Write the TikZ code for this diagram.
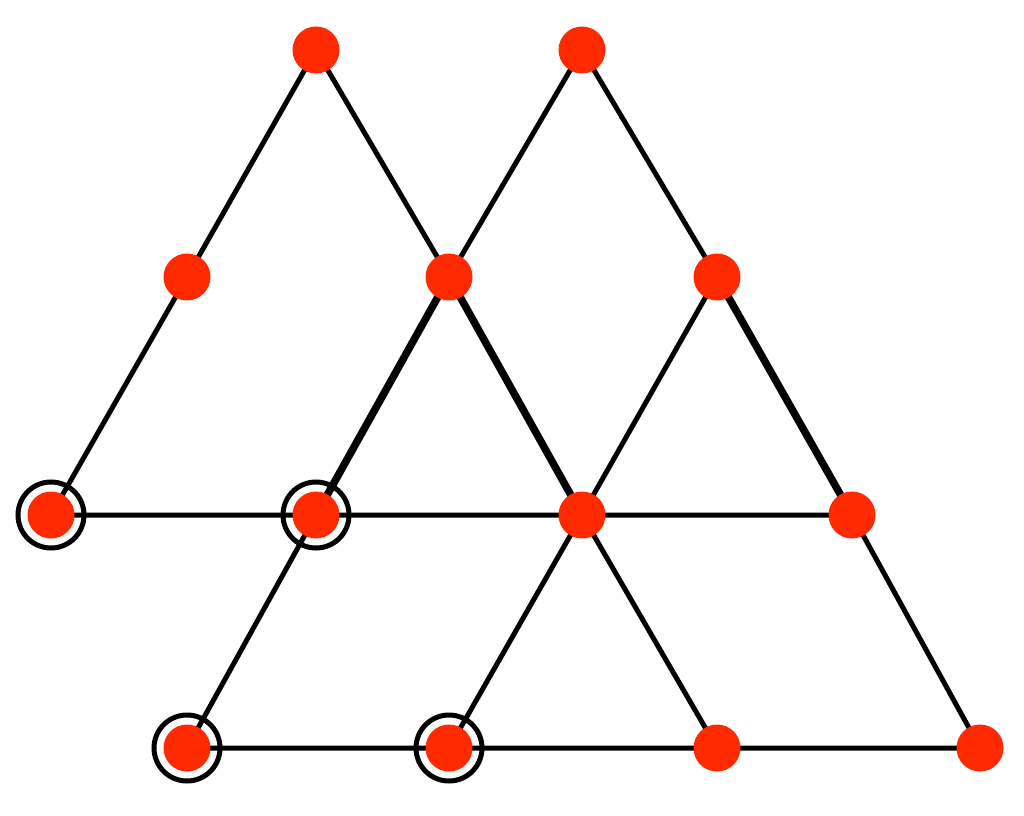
\documentclass[tikz,border=0pt]{standalone}
\begin{document}
\begin{tikzpicture}[x=1pt,y=1pt,
  dot/.style={circle,fill=dotred,inner sep=0pt,minimum size=47pt},
  ring/.style={circle,draw=black,line width=5pt,minimum size=66pt,inner sep=0pt},
  thin/.style={line width=5pt,black},
  thick/.style={line width=7.5pt,black}]
\definecolor{dotred}{RGB}{255,42,0}
\useasboundingbox (0,0) rectangle (1024,815);
\coordinate (a1) at (316,765);
\coordinate (a2) at (582,765);
\coordinate (b1) at (187,538);
\coordinate (b2) at (449,538);
\coordinate (b3) at (717,538);
\coordinate (c1) at (51,300);
\coordinate (c2) at (316,300);
\coordinate (c3) at (582,300);
\coordinate (c4) at (852,300);
\coordinate (d1) at (187,67);
\coordinate (d2) at (449,67);
\coordinate (d3) at (717,67);
\coordinate (d4) at (980,67);
\draw[thin] (a1) -- (b1) -- (c1) -- (c2) -- (c3) -- (c4);
\draw[thin] (a1) -- (b2);
\draw[thin] (a2) -- (b2);
\draw[thin] (a2) -- (b3);
\draw[thick] (b2) -- (c2);
\draw[thick] (b2) -- (c3);
\draw[thick] (b3) -- (c4);
\draw[thin] (b3) -- (c3);
\draw[thin] (c2) -- (d1) -- (d2) -- (d3) -- (d4) -- (c4);
\draw[thin] (c3) -- (d2);
\draw[thin] (c3) -- (d3);
\foreach \n in {a1,a2,b1,b2,b3,c1,c2,c3,c4,d1,d2,d3,d4}
  \node[dot] (n\n) at (\n) {};
\foreach \n in {c1,c2,d1,d2}
  \node[ring] (r\n) at (\n) {};
\end{tikzpicture}
\end{document}
